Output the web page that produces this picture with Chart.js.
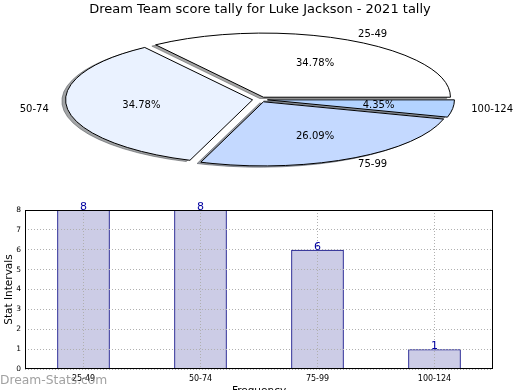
<!DOCTYPE html>
<html><head><meta charset="utf-8">
<script src="https://cdn.jsdelivr.net/npm/chart.js@4.4.1/dist/chart.umd.min.js"></script>
<style>
html,body{margin:0;padding:0;width:520px;height:390px;overflow:hidden;background:#fff;}
#pieWrap{position:absolute;left:0;top:0;width:520px;height:195px;}
#barWrap{position:absolute;left:0;top:195px;width:520px;height:210px;}
#wm{position:absolute;left:0;top:373px;font:12.3px "DejaVu Sans";color:rgba(130,130,130,0.75);white-space:nowrap;}
</style></head><body>
<div id="pieWrap"><canvas id="pie" width="520" height="195"></canvas></div>
<div id="barWrap"><canvas id="bar" width="520" height="210"></canvas></div>
<div id="wm">Dream-Stats.com</div>
<script>
const categories = ['25-49', '50-74', '75-99', '100-124'];
const counts = [8, 8, 6, 1];
const yTicks = [0, 1, 2, 3, 4, 5, 6, 7, 8];
const pieColors = ['#ffffff', '#eaf2ff', '#c4d9ff', '#b3d3ff'];
const titleText = 'Dream Team score tally for Luke Jackson - 2021 tally';
const xTitle = 'Frequency';
const yTitle = 'Stat Intervals';

const FONT = 'DejaVu Sans';
const KY = 0.343;       // vertical squash of the pie
const EXPLODE = 7.5;    // explode distance (circle space)
const SHADOW = 0.02;    // shadow offset fraction of radius

function hexToRgb(h) {
  const n = parseInt(h.slice(1), 16);
  return [(n >> 16) & 255, (n >> 8) & 255, n & 255];
}

const ellipsePie = {
  id: 'ellipsePie',
  beforeDatasetsDraw(chart) {
    const ctx = chart.ctx;
    const meta = chart.getDatasetMeta(0);
    const arcs = meta.data;
    const cx = arcs[0].x, cy = arcs[0].y;
    const bg = chart.data.datasets[0].backgroundColor;
    const buildPath = (arc, dx, dy) => {
      const mid = (arc.startAngle + arc.endAngle) / 2;
      ctx.save();
      ctx.translate(cx, cy); ctx.scale(1, KY); ctx.translate(-cx, -cy);
      ctx.translate(Math.cos(mid) * EXPLODE + dx, Math.sin(mid) * EXPLODE + dy);
      ctx.beginPath();
      ctx.moveTo(arc.x, arc.y);
      ctx.arc(arc.x, arc.y, arc.outerRadius, arc.startAngle, arc.endAngle);
      ctx.closePath();
      ctx.restore();
    };
    // shadows
    arcs.forEach((arc, i) => {
      const c = hexToRgb(bg[i]).map(v => Math.round(v * 0.3));
      const off = arc.outerRadius * SHADOW;
      buildPath(arc, -off, off);
      ctx.fillStyle = `rgba(${c[0]},${c[1]},${c[2]},0.5)`;
      ctx.fill();
      ctx.lineWidth = 1;
      ctx.strokeStyle = `rgba(${c[0]},${c[1]},${c[2]},0.5)`;
      ctx.stroke();
    });
    // wedges
    arcs.forEach((arc) => {
      const mid = (arc.startAngle + arc.endAngle) / 2;
      ctx.save();
      ctx.translate(cx, cy); ctx.scale(1, KY); ctx.translate(-cx, -cy);
      ctx.translate(Math.cos(mid) * EXPLODE, Math.sin(mid) * EXPLODE);
      arc.draw(ctx);
      ctx.restore();
      buildPath(arc, 0, 0);
      ctx.lineWidth = 1;
      ctx.lineJoin = 'miter';
      ctx.strokeStyle = '#000';
      ctx.stroke();
    });
    return false;
  },
  afterDraw(chart) {
    const ctx = chart.ctx;
    const meta = chart.getDatasetMeta(0);
    const arcs = meta.data;
    const labels = chart.data.labels;
    const vals = chart.data.datasets[0].data;
    const total = vals.reduce((a, b) => a + b, 0);
    ctx.save();
    ctx.fillStyle = '#000';
    ctx.font = `10px "${FONT}"`;
    ctx.textBaseline = 'middle';
    arcs.forEach((arc, i) => {
      const mid = (arc.startAngle + arc.endAngle) / 2;
      const R = arc.outerRadius;
      const cs = Math.cos(mid), sn = Math.sin(mid);
      let d = EXPLODE + 0.6 * R;
      ctx.textAlign = 'center';
      ctx.fillText((vals[i] / total * 100).toFixed(2) + '%', arc.x + cs * d, arc.y + sn * d * KY);
      d = EXPLODE + 1.1 * R;
      ctx.textAlign = cs > 0 ? 'left' : 'right';
      ctx.fillText(labels[i], arc.x + cs * d, arc.y + sn * d * KY);
    });
    ctx.restore();
  }
};

new Chart(document.getElementById('pie'), {
  type: 'pie',
  data: {
    labels: categories.slice().reverse(),
    datasets: [{
      data: counts.slice().reverse(),
      backgroundColor: pieColors.slice().reverse(),
      borderWidth: 0,
      radius: 187,
      rotation: 90
    }]
  },
  options: {
    responsive: false,
    animation: false,
    devicePixelRatio: 1,
    rotation: 90,
    layout: { padding: { top: 0, bottom: 13.6, left: 0, right: 0 } },
    plugins: {
      legend: { display: false },
      tooltip: { enabled: false },
      title: {
        display: true, text: titleText, color: '#000',
        font: { family: FONT, size: 13, weight: 'normal' },
        padding: { top: 2, bottom: 0 }
      }
    }
  },
  plugins: [ellipsePie]
});

const barExtras = {
  id: 'barExtras',
  afterDatasetsDraw(chart) {
    const ctx = chart.ctx;
    const a = chart.chartArea;
    chart.scales.x.drawGrid(a);
    chart.scales.y.drawGrid(a);
    ctx.save();
    ctx.strokeStyle = '#000';
    ctx.lineWidth = 1;
    ctx.strokeRect(Math.round(a.left) + 0.5, Math.round(a.top) + 0.5,
                   Math.round(a.right - a.left) - 1, Math.round(a.bottom - a.top) - 1);
    const meta = chart.getDatasetMeta(0);
    const vals = chart.data.datasets[0].data;
    ctx.fillStyle = '#0000a0';
    ctx.font = `11px "${FONT}"`;
    ctx.textAlign = 'center';
    ctx.textBaseline = 'alphabetic';
    meta.data.forEach((bar, i) => {
      ctx.fillText(String(vals[i]), bar.x, bar.y);
    });
    ctx.restore();
  }
};

new Chart(document.getElementById('bar'), {
  type: 'bar',
  data: {
    labels: categories,
    datasets: [{
      data: counts,
      backgroundColor: 'rgba(0,0,128,0.2)',
      borderColor: '#000080',
      borderWidth: 1,
      barPercentage: 0.45,
      categoryPercentage: 1
    }]
  },
  options: {
    responsive: false,
    animation: false,
    devicePixelRatio: 1,
    layout: { padding: { left: 0, right: 27, top: 15, bottom: 7 } },
    plugins: { legend: { display: false }, tooltip: { enabled: false } },
    scales: {
      x: {
        grid: { offset: false, color: '#b0b0b0', lineWidth: 1, drawTicks: false },
        border: { display: false, dash: [1, 2] },
        ticks: { color: '#000', font: { family: FONT, size: 8 }, padding: 5 },
        title: { display: true, text: xTitle, color: '#000', font: { family: FONT, size: 10.5 }, padding: { top: 0, bottom: 0 } },
        afterFit(s) { s.height = 29; }
      },
      y: {
        min: yTicks[0], max: yTicks[yTicks.length - 1],
        afterBuildTicks(s) { s.ticks = yTicks.map(v => ({ value: v })); },
        grid: { color: '#b0b0b0', lineWidth: 1, drawTicks: false },
        border: { display: false, dash: [1, 2] },
        ticks: { color: '#000', font: { family: FONT, size: 7.5 }, padding: 4 },
        title: { display: true, text: yTitle, color: '#000', font: { family: FONT, size: 10.5 }, padding: { top: 3, bottom: 0 } },
        afterFit(s) { s.width = 25; }
      }
    }
  },
  plugins: [barExtras]
});
</script>
</body></html>
